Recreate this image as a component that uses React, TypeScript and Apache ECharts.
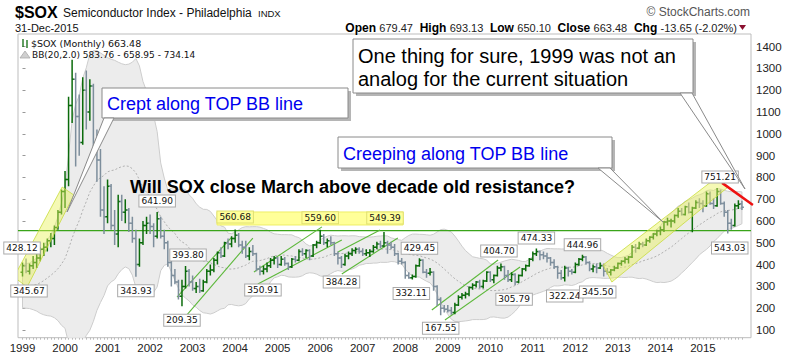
import React, { useEffect, useRef } from "react";
import * as echarts from "echarts";

// ---------- tick labels ----------
const yearLabels = ["1999","2000","2001","2002","2003","2004","2005","2006","2007","2008","2009","2010","2011","2012","2013","2014","2015"];
const priceTicks = [100,200,300,400,500,600,700,800,900,1000,1100,1200,1300,1400];

// closes Jun-1997 .. Dec-1998, only used to seed the 20-month Bollinger band
const priorCloses = [330,380,360,370,300,290,265,275,300,305,310,270,250,265,215,225,255,300,345];

// ---------- monthly OHLC, Jan-1999 .. Dec-2015 ----------
const opens = [
  365,395,370,395,410,430,470,480,510,520,570,640,
  735,790,1130,1250,1080,960,1200,1100,1220,950,880,650,
  620,760,580,540,690,640,650,590,520,400,500,580,
  590,575,530,610,530,500,410,350,320,255,300,370,
  320,290,300,280,320,370,375,420,455,440,500,495,
  520,535,490,480,440,460,450,380,370,380,395,420,
  430,400,425,405,390,425,420,460,450,465,440,490,
  500,530,500,510,500,450,430,400,440,450,465,470,
  460,450,455,460,480,495,485,500,490,480,450,415,
  410,350,340,345,395,420,365,360,365,300,240,200,
  195,190,180,215,250,260,265,295,305,320,300,325,
  365,330,350,385,390,350,330,355,320,350,380,395,
  425,450,460,445,440,430,410,390,360,340,385,370,
  365,400,425,435,410,380,390,385,395,370,365,375,
  385,405,415,425,435,480,475,495,490,510,525,540,
  555,560,595,600,600,625,645,630,665,640,660,685,
  680,670,725,680,670,735,680,640,590,580,670,679.47,
];
const highs = [
  410,428.12,405,440,450,480,500,520,545,580,650,745,
  830,1170,1340,1280,1180,1260,1290,1250,1230,1020,930,760,
  790,770,650,720,720,700,660,620,560,520,600,620,
  630,590,641.90,620,560,510,430,380,330,330,393.80,380,
  350,320,335,330,380,400,430,460,480,505,520,530,
  560.68,545,510,510,480,490,455,395,395,410,430,440,
  435,440,435,410,430,440,470,475,470,470,495,510,
  559.60,540,520,530,505,460,440,450,460,475,480,480,
  475,470,470,490,505,510,549.39,510,505,495,455,430,
  415,365,355,400,429.45,425,380,385,370,305,250,215,
  215,205,225,260,270,275,300,315,325,330,330,370,
  370,355,395,404.70,395,375,365,360,355,385,400,430,
  460,474.33,465,460,455,435,425,395,375,395,390,380,
  410,430,444.96,440,415,400,405,410,405,385,380,395,
  410,420,435,440,490,495,505,505,520,530,545,560,
  575,600,615,610,630,660,660,670,685,665,695,705,
  695,735,735,705,751.21,745,690,650,610,680,695,693.13,
];
const lows = [
  345.67,360,355,380,385,415,440,460,480,490,560,630,
  660,760,1050,850,900,950,1020,1060,900,780,620,540,
  590,560,490,480,600,590,550,500,343.93,390,490,540,
  540,480,520,520,470,390,300,310,240,209.35,290,300,
  280,270,270,275,315,350,365,400,430,435,470,480,
  500,480,450,430,420,440,370,350.91,355,365,385,400,
  385,395,395,375,385,410,415,440,430,420,435,475,
  495,490,480,490,440,400,384.28,395,425,440,450,450,
  440,440,435,455,470,475,480,450,470,440,400,400,
  335,335,332.11,340,390,360,340,350,280,210,167.55,180,
  180,170,172,210,240,245,255,285,295,290,290,320,
  320,315,345,370,330,320,320,305.79,315,345,370,390,
  415,440,420,425,410,395,380,335,330,322.24,345,355,
  360,395,415,400,370,365,360,380,345.50,355,350,370,
  380,395,405,405,430,455,470,480,485,500,515,530,
  535,550,580,570,590,615,625,625,635,548,655,660,
  640,665,675,655,665,675,620,543.03,560,575,655,650.10,
];
const closes = [
  395,370,395,410,430,470,480,510,520,570,640,735,
  790,1130,1250,1080,960,1200,1100,1220,950,880,650,620,
  760,580,540,690,640,650,590,520,400,500,580,590,
  575,530,610,530,500,410,350,320,255,300,370,320,
  290,300,280,320,370,375,420,455,440,500,495,520,
  535,490,480,440,460,450,380,370,380,395,420,430,
  400,425,405,390,425,420,460,450,465,440,490,500,
  530,500,510,500,450,430,400,440,450,465,470,460,
  450,455,460,480,495,485,500,490,480,450,415,410,
  350,340,345,395,420,365,360,365,300,240,200,195,
  190,180,215,250,260,265,295,305,320,300,325,365,
  330,350,385,390,350,330,355,320,350,380,395,425,
  450,460,445,440,430,410,390,360,340,385,370,365,
  400,425,435,410,380,390,385,395,370,365,375,385,
  405,415,425,435,480,475,495,490,510,525,540,555,
  560,595,600,600,625,645,630,665,640,660,685,680,
  670,725,680,670,735,680,640,590,580,670,677.13,663.48,
];

// ---------- annotations (month index, price) ----------
const resistanceLevel = 556;
const channelSegments = [
  [43.6, 251, 59.1, 527], [46.4, 169, 65.0, 522],
  [65.3, 366, 84.5, 573], [66.4, 311, 90.1, 513],
  [89.0, 458, 100.9, 559], [90.1, 357, 105.9, 522],
  [115.5, 192, 134.2, 421], [119.2, 146, 140.4, 389],
];
const highlightZones = [
  [-2.4, 343, 11.2, 756, 14.5, 719, 1.3, 297],
  [163.8, 398, 195.7, 797.5, 199.1, 756, 166.3, 320],
];
const labelZone = [54.9, 641.5, 107.4, 581.8];
const downTrend = [[197.4, 775], [206.1, 673.6]];
// [month index, "h" = high / "l" = low]
const notes: [number, string][] = [
  [0,"l"],[1,"h"],[38,"h"],[32,"l"],[46,"h"],[45,"l"],[60,"h"],[67,"l"],[84,"h"],[102,"h"],[90,"l"],
  [112,"h"],[110,"l"],[118,"l"],[135,"h"],[139,"l"],[145,"h"],[153,"l"],[158,"h"],[164,"l"],[196,"h"],[199,"l"],
];
const noteOffsets = [
  [6.5,14.5],[-4,-10.5],[0,-11],[0,14],[2.5,-11],[0,14],[0,-12.6],[3,14.7],[0,-12],[1,-14],[0,14],
  [0,-10],[-1,14],[0,13],[-2,-12.6],[-1,14],[0,-10.5],[0,14.4],[0,-10],[-6,15.5],[3,-11],[2,14.5],
];

const FONT = "'Liberation Sans', Arial, sans-serif";
const UP = "#0b6b0b";
const DOWN = "#7d8e9c";
const XMIN = -1.27;
const XMAX = 205.56;

export default function App() {
  const ref = useRef<HTMLDivElement>(null);
  useEffect(() => {
    if (!ref.current) return;
    const chart = echarts.init(ref.current, null, { renderer: "svg" });

    const all = [...priorCloses, ...closes];
    const bbMid: number[] = [], bbUp: number[] = [], bbLo: number[] = [];
    closes.forEach((_, i) => {
      const w = all.slice(i, i + 20);
      const mean = w.reduce((a, b) => a + b, 0) / w.length;
      const sd = Math.sqrt(w.reduce((a, b) => a + (b - mean) * (b - mean), 0) / w.length);
      bbMid.push(mean); bbUp.push(mean + 2 * sd); bbLo.push(mean - 2 * sd);
    });

    const ohlc = opens.map((o, i) => [i, o, highs[i], lows[i], closes[i]]);
    const yellowLabels = new Set([60, 84, 102]);
    const noteData = notes.map(([m, k], i) => [m, k === "h" ? highs[m] : lows[m], noteOffsets[i][0], noteOffsets[i][1]]);

    const monthTicks = Array.from({ length: 204 }, (_, i) => i);
    const yearTicks = yearLabels.map((_, i) => i * 12);

    const box = (x: number, y: number, w: number, h: number) => [
      { type: "rect", z: 100, shape: { x: x + 3, y: y + 3, width: w, height: h }, style: { fill: "#b5b5b5" } },
      { type: "rect", z: 101, shape: { x, y, width: w, height: h }, style: { fill: "#ffffff", stroke: "#8a8a8a", lineWidth: 1 } },
    ];
    const pointer = (pts: number[][]) => ({ type: "polygon", z: 102, shape: { points: pts }, style: { fill: "#ffffff", stroke: "#8a8a8a", lineWidth: 1 } });
    const txt = (x: number, y: number, text: string, style: any) => ({ type: "text", z: 110, x, y, style: { text, verticalAlign: "middle", ...style } });

    const option: any = {
      animation: false,
      backgroundColor: "#ffffff",
      grid: { left: 18, right: 49, top: 34, bottom: 19.3, show: true, borderColor: "#bdbdbd", borderWidth: 1, backgroundColor: "#ffffff" },
      xAxis: {
        type: "value", min: XMIN, max: XMAX,
        axisLine: { show: false },
        axisTick: { show: true, customValues: monthTicks, length: 2, lineStyle: { color: "#bbbbbb" } },
        axisLabel: { customValues: yearTicks, formatter: (v: number) => yearLabels[Math.round(v / 12)], color: "#222", fontSize: 11.5, fontFamily: FONT, margin: 4 },
        splitLine: { show: false },
      },
      yAxis: {
        type: "value", position: "right", min: 64.7, max: 1458,
        axisLine: { show: false },
        axisTick: { show: true, customValues: priceTicks, length: 3, lineStyle: { color: "#999" } },
        axisLabel: { customValues: priceTicks, formatter: (v: number) => String(Math.round(v)), align: "left", margin: 5, color: "#222", fontSize: 11.5, fontFamily: FONT },
        splitLine: { show: false },
      },
      series: [
        {
          type: "custom", clip: true, z: 1, silent: true,
          data: [[100, 500]], encode: { x: 0, y: 1 },
          renderItem: (_p: any, api: any) => {
            const pts: number[][] = [];
            for (let i = 0; i < bbUp.length; i++) pts.push(api.coord([i, bbUp[i]]));
            for (let i = bbLo.length - 1; i >= 0; i--) pts.push(api.coord([i, bbLo[i]]));
            return { type: "polygon", shape: { points: pts }, style: { fill: "#ececec", stroke: "#cdcdcd", lineWidth: 1 } };
          },
        },
        {
          type: "line", z: 2, silent: true, symbol: "none", clip: true,
          data: bbMid.map((v, i) => [i, v]),
          lineStyle: { color: "#b0b0b0", width: 1, type: [2, 2] },
        },
        {
          type: "line", z: 3, silent: true, symbol: "none",
          data: [[XMIN, resistanceLevel], [XMAX, resistanceLevel]],
          lineStyle: { color: "#3aa41a", width: 1.2 },
        },
        {
          type: "custom", z: 4, silent: true, clip: true,
          data: channelSegments, encode: { x: [0, 2], y: [1, 3] },
          renderItem: (_p: any, api: any) => {
            const a = api.coord([api.value(0), api.value(1)]);
            const b = api.coord([api.value(2), api.value(3)]);
            return { type: "line", shape: { x1: a[0], y1: a[1], x2: b[0], y2: b[1] }, style: { stroke: "#5cb83a", lineWidth: 1.1 } };
          },
        },
        {
          type: "custom", z: 5, silent: true, clip: true,
          data: ohlc, encode: { x: 0, y: [1, 2, 3, 4] },
          renderItem: (_p: any, api: any) => {
            const m = api.value(0), o = api.value(1), h = api.value(2), l = api.value(3), c = api.value(4);
            const pH = api.coord([m, h]), pL = api.coord([m, l]), pO = api.coord([m, o]), pC = api.coord([m, c]);
            const x = pH[0];
            const col = c >= o ? UP : DOWN;
            const st = { stroke: col, lineWidth: 1.5 };
            return {
              type: "group",
              children: [
                { type: "line", shape: { x1: x, y1: pH[1], x2: x, y2: pL[1] }, style: st },
                { type: "line", shape: { x1: x - 2, y1: pO[1], x2: x, y2: pO[1] }, style: st },
                { type: "line", shape: { x1: x, y1: pC[1], x2: x + 2, y2: pC[1] }, style: st },
              ],
            };
          },
        },
        {
          type: "custom", z: 6, silent: true, clip: true,
          data: highlightZones, encode: { x: [0, 2, 4, 6], y: [1, 3, 5, 7] },
          renderItem: (_p: any, api: any) => {
            const pts = [0, 2, 4, 6].map((k) => api.coord([api.value(k), api.value(k + 1)]));
            return { type: "polygon", shape: { points: pts }, style: { fill: "rgba(232,242,90,0.45)", stroke: "rgba(200,220,60,0.8)", lineWidth: 1 } };
          },
        },
        {
          type: "custom", z: 6, silent: true, clip: true,
          data: [labelZone], encode: { x: [0, 2], y: [1, 3] },
          renderItem: (_p: any, api: any) => {
            const a = api.coord([api.value(0), api.value(1)]);
            const b = api.coord([api.value(2), api.value(3)]);
            return { type: "rect", shape: { x: a[0], y: a[1], width: b[0] - a[0], height: b[1] - a[1] }, style: { fill: "#ffff99", stroke: "#eeee66", lineWidth: 1 } };
          },
        },
        {
          type: "custom", z: 7, silent: true, clip: false,
          data: [[downTrend[0][0], downTrend[0][1], downTrend[1][0], downTrend[1][1]]], encode: { x: [0, 2], y: [1, 3] },
          renderItem: (_p: any, api: any) => {
            const a = api.coord([api.value(0), api.value(1)]);
            const b = api.coord([api.value(2), api.value(3)]);
            return { type: "line", shape: { x1: a[0], y1: a[1], x2: b[0], y2: b[1] }, style: { stroke: "#ee1111", lineWidth: 2.5 } };
          },
        },
        {
          type: "custom", z: 8, silent: true, clip: false,
          data: noteData, encode: { x: 0, y: 1 },
          renderItem: (_p: any, api: any) => {
            const m = api.value(0), v = api.value(1);
            const p = api.coord([m, v]);
            const yl = yellowLabels.has(m);
            return {
              type: "text",
              x: p[0] + api.value(2), y: p[1] + api.value(3),
              style: {
                text: v.toFixed(2), align: "center", verticalAlign: "middle",
                fontSize: 9, fontFamily: "'DejaVu Sans', Verdana, sans-serif", fill: "#111",
                backgroundColor: yl ? "#ffff99" : "#ffffff", borderColor: yl ? "#e0e070" : "#aaaaaa", borderWidth: 1,
                padding: [1, 2, 0, 2], lineHeight: 10,
              },
            };
          },
        },
      ],
      graphic: {
        elements: [
          txt(15, 12.5, "$SOX", { font: `bold 16px ${FONT}`, fill: "#000" }),
          txt(63, 13, "Semiconductor Index - Philadelphia", { font: `12px ${FONT}`, fill: "#111" }),
          txt(258, 13.5, "INDX", { font: `9.5px ${FONT}`, fill: "#111" }),
          txt(15, 27.5, "31-Dec-2015", { font: `11px ${FONT}`, fill: "#111" }),
          txt(750, 12, "© StockCharts.com", { font: `12px ${FONT}`, fill: "#555", align: "right" }),
          {
            type: "text", z: 110, x: 737, y: 27.5,
            style: {
              text: "{b|Open} {n|679.47}  {b|High} {n|693.13}  {b|Low} {n|650.10}  {b|Close} {n|663.48}  {b|Chg} {n|-13.65 (-2.02%)}",
              align: "right", verticalAlign: "middle",
              rich: {
                b: { fontSize: 12, fontWeight: "bold", fontFamily: FONT, fill: "#000" },
                n: { fontSize: 11, fontFamily: FONT, fill: "#222" },
              },
            },
          },
          { type: "polygon", z: 110, shape: { points: [[739, 25], [746, 25], [742.5, 30]] }, style: { fill: "#8b1030" } },
          // legend
          { type: "line", z: 110, shape: { x1: 23, y1: 39, x2: 23, y2: 47 }, style: { stroke: UP, lineWidth: 1.3 } },
          { type: "line", z: 110, shape: { x1: 27, y1: 40, x2: 27, y2: 48 }, style: { stroke: UP, lineWidth: 1.3 } },
          txt(31, 43.5, "$SOX (Monthly) 663.48", { font: `9.5px 'DejaVu Sans', Verdana, sans-serif`, fill: "#111" }),
          { type: "polygon", z: 110, shape: { points: [[20, 58], [25, 51], [30, 58]] }, style: { fill: "#cfcfcf", stroke: "#aaa", lineWidth: 0.8 } },
          txt(32, 54.5, "BB(20,2.0) 583.76 - 658.95 - 734.14", { font: `9px 'DejaVu Sans', Verdana, sans-serif`, fill: "#111" }),
          // annotation boxes
          ...box(102, 88, 246, 30),
          pointer([[104, 118], [114, 118], [67, 212]]),
          txt(107, 103.7, "Crept along TOP BB line", { font: `18px ${FONT}`, fill: "#0000ee" }),
          ...box(353, 39, 340, 54),
          pointer([[680, 93], [692, 93], [745, 189]]),
          txt(358, 55.5, "One thing for sure, 1999 was not an", { font: `20px ${FONT}`, fill: "#000" }),
          txt(358, 78.5, "analog for the current situation", { font: `20px ${FONT}`, fill: "#000" }),
          ...box(338, 137, 274, 31),
          pointer([[598, 168], [610, 168], [663, 222]]),
          txt(343, 153.7, "Creeping along TOP BB line", { font: `18px ${FONT}`, fill: "#0000ee" }),
          txt(130, 186.7, "Will SOX close March above decade old resistance?", { font: `bold 18px ${FONT}`, fill: "#000" }),
        ],
      },
    };
    chart.setOption(option);
    return () => chart.dispose();
  }, []);
  return <div ref={ref} style={{ position: "fixed", left: 0, top: 0, width: 800, height: 357, background: "#fff" }} />;
}
